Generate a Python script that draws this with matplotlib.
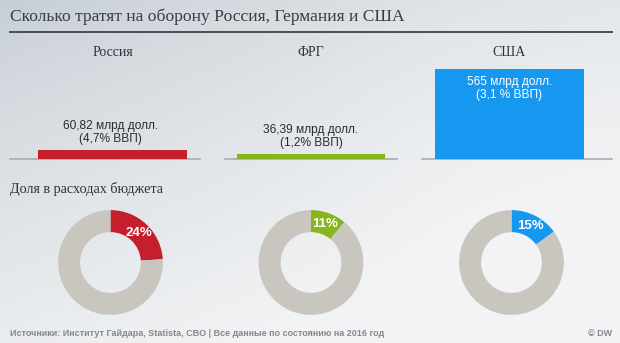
import numpy as np
import matplotlib
matplotlib.use("Agg")
import matplotlib.pyplot as plt
from matplotlib import font_manager

# ---- data -------------------------------------------------------------
countries = ["Россия", "ФРГ", "США"]
spending_bn = [60.82, 36.39, 565]            # млрд долл.
gdp_share = ["4,7%", "1,2%", "3,1 %"]         # % ВВП
budget_share = [24, 11, 15]                   # % расходов бюджета
spend_labels = ["60,82 млрд долл.", "36,39 млрд долл.", "565 млрд долл."]

colors = ["#c41f2c", "#86b51c", "#1697f0"]
ring_grey = "#c9c6bf"

W, H = 620, 343
fig = plt.figure(figsize=(W / 100, H / 100), dpi=100)


def box(x0, y0, x1, y1):
    """pixel box (top-left origin) -> figure rect"""
    return [x0 / W, 1 - y1 / H, (x1 - x0) / W, (y1 - y0) / H]


def fx(x):
    return x / W


def fy(y):
    return 1 - y / H


installed = {f.name for f in font_manager.fontManager.ttflist}
narrow = ["Liberation Sans Narrow", "Liberation Sans", "DejaVu Sans"]
narrow = [f for f in narrow if f in installed] or ["DejaVu Sans"]
serif = ["Liberation Serif", "DejaVu Serif"]

# ---- background gradient ---------------------------------------------
bg = fig.add_axes([0, 0, 1, 1])
yy, xx = np.mgrid[0:H, 0:W]
t = np.clip(0.55 * xx / W + 0.75 * yy / H + 0.1 * np.exp(-((xx - 470) ** 2 + (yy - 110) ** 2) / 30000), 0, 1)
t = t ** 0.7
dark = np.array([0.77, 0.80, 0.83])
light = np.array([0.95, 0.955, 0.96])
img = dark[None, None, :] * (1 - t[..., None]) + light[None, None, :] * t[..., None]
bg.imshow(img, extent=[0, W, H, 0], aspect="auto", interpolation="bilinear")
bg.set_xlim(0, W)
bg.set_ylim(H, 0)
bg.axis("off")

# ---- title and rule ---------------------------------------------------
fig.text(fx(10), fy(17), "Сколько тратят на оборону Россия, Германия и США",
         family=serif, fontsize=12.6, color="#3a3d42", va="center", ha="left")
bg.plot([10, 612], [31.5, 31.5], color="#4a4d52", lw=1.4)

# ---- bars ---------------------------------------------------------------
ax = fig.add_axes(box(13.25, 59, 608.75, 159.5))
ax.set_xlim(-0.5, 2.5)
ax.set_ylim(0, 627)
ax.axis("off")
x = np.arange(len(countries))
ax.bar(x, spending_bn, width=0.75, color=colors, zorder=3)

# grey base segments under each bar
base_from = [-0.516, 0.567, 1.559]
base_to = [0.441, 1.433, 2.516]
for a, b in zip(base_from, base_to):
    ax.plot([a, b], [0, 0], color="#a9adb2", lw=1.2, clip_on=False, zorder=2)

for i, (v, lab, g) in enumerate(zip(spending_bn, spend_labels, gdp_share)):
    txt = f"{lab}\n({g} ВВП)"
    if v > 300:
        ax.annotate(txt, (i, v), xytext=(0, -5), textcoords="offset points",
                    ha="center", va="top", fontsize=8.6, family=narrow,
                    color="white", linespacing=1.1)
    else:
        ax.annotate(txt, (i, v), xytext=(-1.5 if i == 0 else 0, 3.5), textcoords="offset points",
                    ha="center", va="bottom", fontsize=8.6, family=narrow,
                    color="#2a2c2f", linespacing=1.1)

# column headings
for i, name in enumerate(countries):
    xp = ax.transData.transform((i, 0))[0]
    fig.text(xp / fig.dpi / fig.get_figwidth(), fy(53), name, family=serif,
             fontsize=10, color="#2f3236", ha="center", va="center")

# ---- budget share donuts ---------------------------------------------
fig.text(fx(10), fy(189), "Доля в расходах бюджета", family=serif,
         fontsize=10.2, color="#2f3236", ha="left", va="center")

centers = [110.5, 311, 511.5]
R = 55
for cx, share, col in zip(centers, budget_share, colors):
    dax = fig.add_axes(box(cx - R, 262.5 - R, cx + R, 262.5 + R))
    wedges, _ = dax.pie([share, 100 - share], colors=[col, ring_grey],
                        startangle=90, counterclock=False,
                        wedgeprops=dict(width=0.42, linewidth=0))
    w = wedges[0]
    mid = np.deg2rad((w.theta1 + w.theta2) / 2)
    r = 0.78
    dax.text(r * np.cos(mid), r * np.sin(mid), f"{share}%", ha="center",
             va="center", color="white", fontsize=9.5, fontweight="bold",
             family=narrow)
    dax.set_xlim(-1.05, 1.05)
    dax.set_ylim(-1.05, 1.05)
    dax.set_aspect("equal")
    dax.axis("off")

# ---- footer -----------------------------------------------------------
fig.text(fx(10), fy(333),
         "Источники: Институт Гайдара, Statista, CBO | Все данные по состоянию на 2016 год",
         family=["Liberation Sans", "DejaVu Sans"], fontsize=6.5, fontweight="bold",
         color="#85888c", ha="left", va="center")
fig.text(fx(612), fy(333), "© DW", family=["Liberation Sans", "DejaVu Sans"],
         fontsize=6.5, fontweight="bold", color="#85888c", ha="right", va="center")

fig.savefig("out.png", dpi=100)
